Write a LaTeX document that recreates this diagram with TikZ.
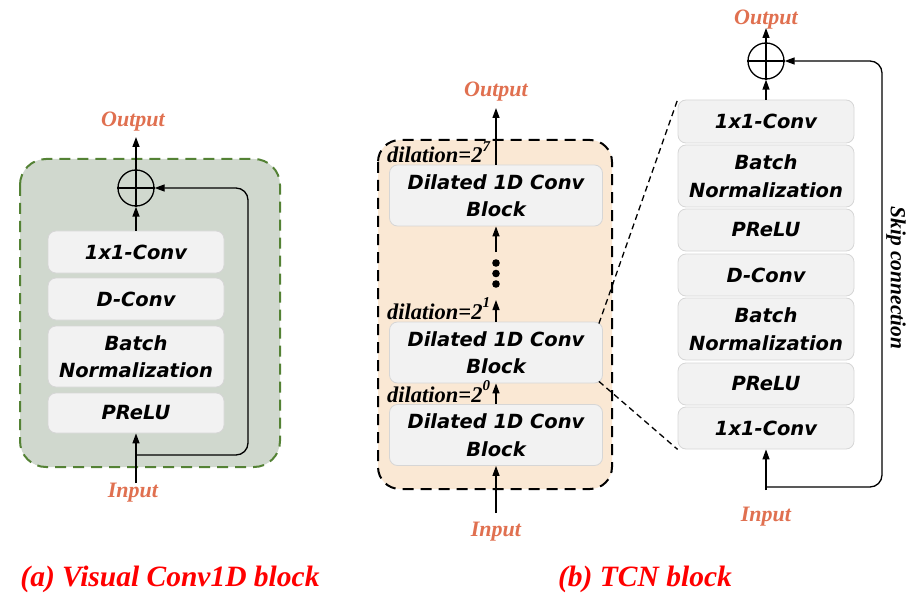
\documentclass[tikz,border=0pt]{standalone}
\usepackage{fontspec}
\setmainfont{Liberation Serif}
\setsansfont{DejaVu Sans}
\usetikzlibrary{arrows.meta,calc}
\definecolor{gfill}{RGB}{208,216,206}
\definecolor{gdash}{RGB}{84,130,53}
\definecolor{ofill}{RGB}{250,232,212}
\definecolor{bfill}{RGB}{242,242,242}
\definecolor{bdraw}{RGB}{214,214,214}
\definecolor{lab}{RGB}{224,112,80}
\newcommand{\supnum}[1]{\raisebox{0.5em}{\fontsize{15}{15}\selectfont #1}}
\tikzset{
  blk/.style={draw=bdraw, fill=bfill, line width=0.8pt, rounded corners=8pt,
    minimum width=176pt, align=center, inner sep=0pt,
    font=\sffamily\bfseries\itshape\fontsize{19.5}{27.5}\selectfont},
  dblk/.style={blk, minimum width=213pt, minimum height=61pt},
  iolab/.style={text=lab, font=\rmfamily\bfseries\itshape\fontsize{22}{22}\selectfont, inner sep=1pt},
  dil/.style={font=\rmfamily\bfseries\itshape\fontsize{22.5}{22.5}\selectfont, inner sep=0pt, anchor=base west},
  captxt/.style={text=red, font=\rmfamily\bfseries\itshape\fontsize{29.5}{29.5}\selectfont},
  arr/.style={line width=1.3pt, -{Triangle[length=10pt,width=7pt]}},
  ln/.style={line width=1.3pt},
  sumc/.style={circle, draw, line width=1.3pt, minimum size=36pt, inner sep=0pt},
  zoomln/.style={line width=1.3pt, dash pattern=on 6pt off 4pt},
}
\begin{document}
\begin{tikzpicture}[x=1pt,y=-1pt]
\useasboundingbox (0,0) rectangle (917,612);
% ---------- (a) ----------
\draw[gdash, fill=gfill, line width=2pt, dash pattern=on 11pt off 7pt, rounded corners=26pt] (20,159) rectangle (280,467);
\node[blk, minimum height=42pt] (a1) at (136,252) {1x1-Conv};
\node[blk, minimum height=42pt] (a2) at (136,299) {D-Conv};
\node[blk, minimum height=61pt] (a3) at (136,356.5) {Batch\\Normalization};
\node[blk, minimum height=40pt] (a4) at (136,413) {PReLU};
\node[sumc] (ac) at (136,188) {};
\draw[ln] (ac.north) -- (ac.south) (ac.west) -- (ac.east);
\node[iolab] (aout) at (133,122) {Output};
\node[iolab] (ain) at (133,493) {Input};
\coordinate (as0) at (136,455);
\coordinate (as1) at (248,455);
\coordinate (as2) at (248,188);
\coordinate (aint) at (136,483);
\coordinate (aoutb) at (136,137);
\draw[arr] (a1.north) -- (ac.south);
\draw[arr] (ac.north) -- (aoutb);
\draw[arr] (aint) -- (a4.south);
\draw[arr, rounded corners=12pt] (as0) -- (as1) -- (as2) -- (ac.east);
\node[captxt] (acap) at (170,579) {(a) Visual Conv1D block};
% ---------- (b) middle ----------
\draw[black, fill=ofill, line width=2pt, dash pattern=on 11pt off 7pt, rounded corners=22pt] (378,140) rectangle (612,489);
\node[dblk] (m3) at (496,195.5) {Dilated 1D Conv\\Block};
\node[dblk] (m2) at (496,352.5) {Dilated 1D Conv\\Block};
\node[dblk] (m1) at (496,435) {Dilated 1D Conv\\Block};
\node[iolab] (mout) at (496,92) {Output};
\node[iolab] (min) at (496,532) {Input};
\fill (496,263) circle (3.8pt) (496,273.5) circle (3.8pt) (496,284) circle (3.8pt);
\coordinate (md1) at (496,252);
\coordinate (md0) at (496,300);
\coordinate (mint) at (496,513);
\coordinate (moutb) at (496,108);
\draw[arr] (m3.north) -- (moutb);
\draw[arr] (md1) -- (m3.south);
\draw[arr] (m2.north) -- (md0);
\draw[arr] (m1.north) -- (m2.south);
\draw[arr] (mint) -- (m1.south);
\node[dil] (d7) at (387,163) {dilation=2\supnum{7}};
\node[dil] (d1) at (387,319) {dilation=2\supnum{1}};
\node[dil] (d0) at (387,402) {dilation=2\supnum{0}};
\node[captxt] (bcap) at (645,579) {(b) TCN block};
% ---------- (b) right ----------
\node[blk, minimum height=43pt] (r1) at (766,121.5) {1x1-Conv};
\node[blk, minimum height=62pt] (r2) at (766,176) {Batch\\Normalization};
\node[blk, minimum height=42pt] (r3) at (766,230) {PReLU};
\node[blk, minimum height=42pt] (r4) at (766,275) {D-Conv};
\node[blk, minimum height=62pt] (r5) at (766,329) {Batch\\Normalization};
\node[blk, minimum height=42pt] (r6) at (766,384) {PReLU};
\node[blk, minimum height=42pt] (r7) at (766,428) {1x1-Conv};
\node[sumc] (rc) at (766,61) {};
\draw[ln] (rc.north) -- (rc.south) (rc.west) -- (rc.east);
\node[iolab] (rout) at (766,20) {Output};
\node[iolab] (rin) at (766,517) {Input};
\coordinate (rs0) at (766,487);
\coordinate (rs1) at (882,487);
\coordinate (rs2) at (882,61);
\coordinate (rint) at (766,490);
\coordinate (routb) at (766,28);
\draw[arr] (r1.north) -- (rc.south);
\draw[arr] (rc.north) -- (routb);
\draw[arr] (rint) -- (r7.south);
\draw[arr, rounded corners=12pt] (rs0) -- (rs1) -- (rs2) -- (rc.east);
\node[rotate=-90, font=\rmfamily\bfseries\itshape\fontsize{21.5}{21.5}\selectfont] (skip) at (896,278) {Skip connection};
% dashed zoom lines
\draw[zoomln] ($(m2.north east)+(-4,2)$) -- (r1.north west);
\draw[zoomln] ($(m2.south east)+(-4,-2)$) -- (r7.south west);
\end{tikzpicture}
\end{document}
